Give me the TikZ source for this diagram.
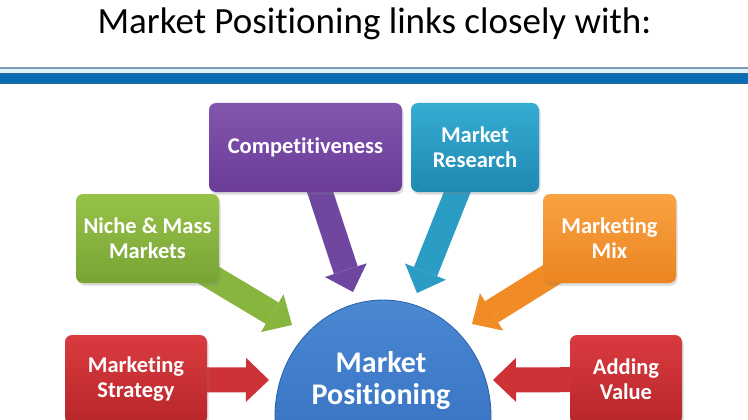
\documentclass[tikz,border=0pt]{standalone}
\usepackage{fontspec}
\setmainfont{Carlito}[Ligatures=NoCommon]
\usetikzlibrary{arrows.meta,shadows,shapes.geometric}
\definecolor{purpT}{HTML}{8255AE}
\definecolor{purpB}{HTML}{6A3C98}
\definecolor{purpA}{HTML}{7047A0}
\definecolor{tealT}{HTML}{36ACD3}
\definecolor{tealB}{HTML}{1F89B2}
\definecolor{tealA}{HTML}{2B9CC4}
\definecolor{grnT}{HTML}{97C249}
\definecolor{grnB}{HTML}{78A435}
\definecolor{grnA}{HTML}{88B53E}
\definecolor{orgT}{HTML}{FAA243}
\definecolor{orgB}{HTML}{EA8420}
\definecolor{orgA}{HTML}{F08B25}
\definecolor{redT}{HTML}{D93B3F}
\definecolor{redB}{HTML}{B8262A}
\definecolor{redA}{HTML}{CC3236}
\definecolor{bluT}{HTML}{4A88D2}
\definecolor{bluB}{HTML}{2D67BA}
\definecolor{bluE}{HTML}{2C5FA8}
\definecolor{lineGray}{HTML}{8299B4}
\definecolor{lineCyan}{HTML}{DDF3F7}
\definecolor{bandBlue}{HTML}{0A6CB3}
\definecolor{bandEdge}{HTML}{2E6A9A}
\begin{document}
\begin{tikzpicture}[x=1pt,y=-1pt,
  box/.style={rounded corners=7pt, minimum height=89pt, inner sep=0pt,
    align=center, text=white, font=\bfseries\fontsize{22.5}{25}\selectfont,
    drop shadow={opacity=0.28,shadow xshift=1.5pt,shadow yshift=-2.5pt}},
  bigarrow/.style={line width=25pt,
    -{Triangle[length=23pt,width=44pt,line width=0pt]}},
  hub/.style={ellipse, minimum width=216pt, minimum height=232pt,
    top color=bluT, bottom color=bluB, draw=bluE, line width=0.8pt},
  hubtext/.style={align=center, text=white, font=\bfseries\fontsize{30}{32}\selectfont},
  titletext/.style={font=\fontsize{37}{40}\selectfont, text=black, inner sep=0pt}
]
\useasboundingbox (0,0) rectangle (748,420);
\clip (0,0) rectangle (748,420);
\fill[white] (0,0) rectangle (748,420);

% title and rules
\node[titletext, anchor=base] (title) at (374.5,34) {Market Positioning links closely with:};
\fill[lineGray] (0,67.5) rectangle (748,69.5);
\fill[lineCyan] (0,69.5) rectangle (748,73);
\fill[bandBlue] (0,73) rectangle (748,84);
\fill[bandEdge] (0,73) rectangle (748,74);
\fill[bandEdge] (0,83) rectangle (748,84);

% hub
\node[hub] (hub) at (383,416) {};
\node[hubtext] (mp) at (381,381) {Market\\Positioning};

% arrow tips
\coordinate (compT) at (353,292);
\coordinate (mresT) at (417,293);
\coordinate (nicheT) at (292,325);
\coordinate (mixT) at (472,324);
\coordinate (stratT) at (269,380);
\coordinate (valueT) at (493,380);

% boxes (positions)
\path (305.5,147.5) coordinate (compC)
      (475,147.5) coordinate (mresC)
      (147.5,238.5) coordinate (nicheC)
      (609.5,238.5) coordinate (mixC)
      (136,379.5) coordinate (stratC)
      (626,379.5) coordinate (valueC);

% arrows (under boxes)
\draw[bigarrow, purpA] (compC) -- (compT);
\draw[bigarrow, tealA] (mresC) -- (mresT);
\draw[bigarrow, grnA] (nicheC) -- (nicheT);
\draw[bigarrow, orgA] (mixC) -- (mixT);
\draw[bigarrow, redA] (stratC) -- (stratT);
\draw[bigarrow, redA] (valueC) -- (valueT);

% boxes
\node[box, minimum width=193pt, top color=purpT, bottom color=purpB] (comp) at (compC) {Competitiveness};
\node[box, minimum width=128pt, top color=tealT, bottom color=tealB] (mres) at (mresC) {Market\\Research};
\node[box, minimum width=143pt, top color=grnT, bottom color=grnB] (niche) at (nicheC) {Niche \& Mass\\Markets};
\node[box, minimum width=133pt, top color=orgT, bottom color=orgB] (mix) at (mixC) {Marketing\\Mix};
\node[box, minimum width=142pt, top color=redT, bottom color=redB] (strat) at (stratC) {Marketing\\Strategy};
\node[box, minimum width=112pt, top color=redT, bottom color=redB] (value) at (valueC) {Adding\\Value};
\end{tikzpicture}
\end{document}
